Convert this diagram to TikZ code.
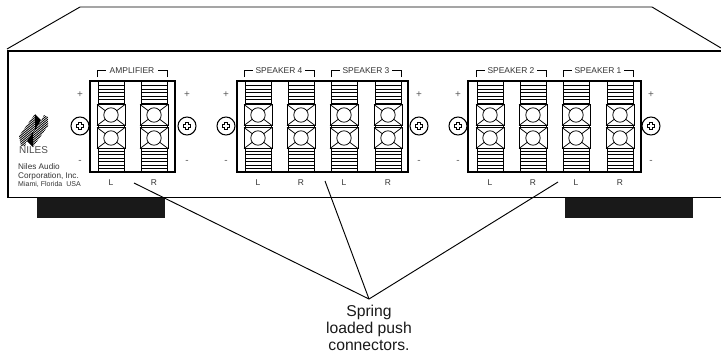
\documentclass[tikz,border=0pt]{standalone}
\usepackage{fontspec}
\setmainfont{Liberation Sans}
\colorlet{mygray}{black!80}
\tikzset{
  panel/.style={line width=0.8pt,black},
  panel thick/.style={line width=1.9pt,black},
  block/.style={line width=1.4pt,black},
  leader/.style={line width=0.8pt,black},
  thin line/.style={line width=0.6pt,black},
  tag/.style={inner sep=0,font=\fontsize{7.2}{8}\selectfont,mygray},
  sign/.style={inner sep=0,font=\fontsize{8.5}{9}\selectfont,black!65},
  note/.style={inner sep=0,font=\fontsize{13.4}{14.6}\selectfont,align=center,black!90},
  maker/.style={inner sep=0,anchor=west,mygray}
}
% one spring terminal, #1 = centre x
\newcommand{\terminal}[1]{
  \foreach \y in {85.5,89,92.5,96,99.5,103}{\draw[thin line] (#1-13,\y) -- (#1+13,\y);}
  \foreach \y in {151,154.5,158,161.5,165,168.5}{\draw[thin line] (#1-13,\y) -- (#1+13,\y);}
  \draw[line width=0.8pt] (#1-13,81) -- (#1-13,172) (#1+13,81) -- (#1+13,172);
  \foreach \cy in {115,138}{
    \draw[line width=0.75pt,fill=white] (#1-14,\cy-10.5) rectangle (#1+14,\cy+10.5);
    \draw[line width=0.65pt] (#1-14,\cy-10.5) -- (#1+14,\cy+10.5) (#1+14,\cy-10.5) -- (#1-14,\cy+10.5);
    \draw[line width=0.65pt,fill=white] (#1,\cy) circle (7.2);
  }
}
% screw with a plus head
\newcommand{\screw}[1]{
  \draw[line width=0.9pt,fill=white] (#1,126) circle (9);
  \draw[line width=3.3pt] (#1-3.9,126) -- (#1+3.9,126) (#1,122.1) -- (#1,129.9);
  \draw[line width=1.3pt,white] (#1-3,126) -- (#1+3,126) (#1,123) -- (#1,129);
  \node[sign] (plus#1) at (#1,95) {+};
  \node[sign] (minus#1) at (#1,162) {-};
}
% bracket with the name of the output in it
\newcommand{\outgroup}[3]{
  \node[tag] (group#3) at (#1/2+#2/2,71) {#3};
  \draw[line width=0.7pt] (#1,77) |- (#1+9,70.5);
  \draw[line width=0.7pt] (#2,77) |- (#2-9,70.5);
}
\begin{document}
\begin{tikzpicture}[x=0.03cm,y=-0.03cm]
  \useasboundingbox (0,0) rectangle (721,354);

  % cabinet
  \draw[panel] (7,49) -- (80,7) -- (652,7) -- (721,48);
  \draw[panel thick] (721,51) -- (8,51) -- (8,197);
  \draw[panel] (7,197) -- (721,197);
  \fill[black!90] (37,197.5) rectangle (165,218);
  \fill[black!90] (565,197.5) rectangle (693,218);

  % terminal blocks
  \draw[block] (90,81) rectangle (175,172);
  \draw[block] (237,81) rectangle (408,172);
  \draw[block] (468,81) rectangle (641,172);
  \foreach \x in {111,154,258,301,344,388,490,533,576,620}{\terminal{\x}}
  \foreach \x in {80,187,226,419,458,651}{\screw{\x}}

  \outgroup{97}{167}{AMPLIFIER}
  \outgroup{244}{314}{SPEAKER 4}
  \outgroup{331}{401}{SPEAKER 3}
  \outgroup{476}{546}{SPEAKER 2}
  \outgroup{563}{633}{SPEAKER 1}

  \foreach \x/\t in {111/L,154/R,258/L,301/R,344/L,388/R,490/L,533/R,576/L,620/R}{
    \node[tag] (side\x) at (\x,183) {\t};
  }

  % logo
  \begin{scope}
    \clip (19,136) -- (35,114) -- (35,130) -- (27,141) -- (25,146) -- (21,146) -- cycle;
    \foreach \i in {0,2.2,...,60}{\draw[line width=0.7pt] (15,118+\i) -- (40,98+\i);}
  \end{scope}
  \begin{scope}
    \clip (48,117) -- (48,126) -- (33,147) -- (33,132) -- (41,121) -- (44,115) -- cycle;
    \foreach \i in {0,2.2,...,60}{\draw[line width=0.7pt] (30,114+\i) -- (52,96+\i);}
  \end{scope}
  \fill (35,114) -- (41,120) -- (35,130) -- cycle;
  \fill (33,147) -- (27,141) -- (33,132) -- cycle;
  \node[maker,font=\fontsize{8.5}{9}\selectfont,black!70] (logoname) at (19,150) {NILES};
  \node[maker,font=\fontsize{7}{8}\selectfont] (maker1) at (18,167) {Niles Audio};
  \node[maker,font=\fontsize{7}{8}\selectfont] (maker2) at (18,176) {Corporation, Inc.};
  \node[maker,font=\fontsize{6}{7}\selectfont] (maker3) at (18,184) {Miami, Florida\ \ USA};

  % callout
  \node[note] (callout) at (369,328) {Spring\\loaded push\\connectors.};
  \coordinate (tip) at (369,299);
  \coordinate (amp) at (134,183);
  \coordinate (mid) at (325,181);
  \coordinate (right) at (558,182);
  \draw[leader] (amp) -- (tip);
  \draw[leader] (mid) -- (tip);
  \draw[leader] (right) -- (tip);
\end{tikzpicture}
\end{document}
